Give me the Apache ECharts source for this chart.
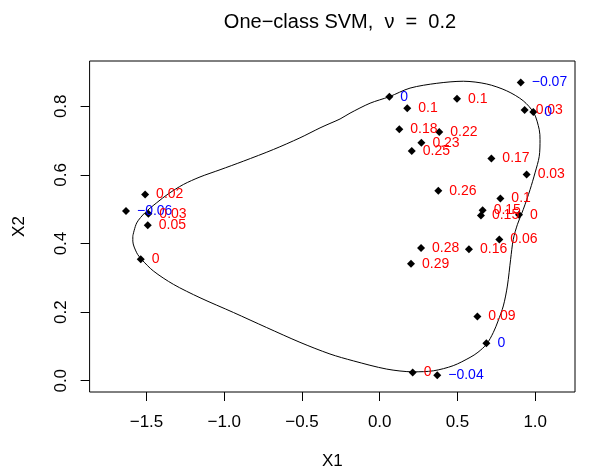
<!DOCTYPE html>
<html>
<head>
<meta charset="utf-8">
<script src="https://cdn.jsdelivr.net/npm/echarts@6/dist/echarts.min.js"></script>
<style>html,body{margin:0;padding:0;background:#fff}#chart{width:590px;height:475px}</style>
</head>
<body>
<div id="chart"></div>
<script>
// Training points (X1, X2) and their labels (decision values)
var pointX1 = [-1.509,-1.632,-1.488,-1.492,-1.537,0.062,0.177,0.497,0.907,0.932,0.988,0.126,0.383,0.268,0.206,0.718,0.945,0.377,0.776,0.662,0.651,0.896,0.769,0.266,0.574,0.201,0.628,0.686,0.212,0.370];
var pointX2 = [0.543,0.495,0.487,0.453,0.354,0.828,0.794,0.822,0.869,0.789,0.783,0.733,0.725,0.694,0.670,0.648,0.601,0.554,0.531,0.497,0.482,0.484,0.412,0.387,0.383,0.341,0.187,0.109,0.024,0.016];
var pointLabels = ["0.02","\u22120.06","0.03","0.05","0","0","0.1","0.1","\u22120.07","0.03","0","0.18","0.22","0.23","0.25","0.17","0.03","0.26","0.1","0.15","0.15","0","0.06","0.28","0.16","0.29","0.09","0","0","\u22120.04"];
// true = negative decision value (drawn in blue)
var pointNegative = [false,true,false,false,false,true,false,false,true,false,true,false,false,false,false,false,false,false,false,false,false,false,false,false,false,false,false,true,false,true];

// Decision boundary (contour at level 0)
var boundaryX1 = [-1.588,-1.563,-1.509,-1.434,-1.359,-1.263,-1.156,-1.027,-0.877,-0.684,-0.513,-0.384,-0.320,-0.255,-0.191,-0.062,0.062,0.195,0.367,0.538,0.688,0.817,0.923,0.992,1.026,1.031,1.026,0.999,0.967,0.923,0.886,0.859,0.842,0.821,0.795,0.761,0.731,0.688,0.632,0.581,0.473,0.345,0.216,0.045,-0.170,-0.320,-0.513,-0.727,-0.941,-1.156,-1.327,-1.456,-1.532,-1.563,-1.588,-1.588];
var boundaryX2 = [0.422,0.460,0.490,0.519,0.545,0.572,0.594,0.615,0.640,0.674,0.708,0.737,0.750,0.763,0.780,0.809,0.828,0.853,0.867,0.873,0.865,0.845,0.816,0.780,0.732,0.703,0.654,0.606,0.557,0.499,0.456,0.412,0.354,0.276,0.218,0.174,0.141,0.107,0.083,0.068,0.044,0.029,0.026,0.034,0.058,0.078,0.112,0.155,0.199,0.242,0.281,0.320,0.354,0.373,0.407,0.422];

var xTicks = [-1.5,-1.0,-0.5,0.0,0.5,1.0];
var yTicks = [0.0,0.2,0.4,0.6,0.8];

var FONT = "'Liberation Sans', Arial, Helvetica, sans-serif";
function fmt(v){ return v.toFixed(1).replace('-', '\u2212'); }

var boundaryData = boundaryX1.map(function(x,i){ return [x, boundaryX2[i]]; });
var pointData = pointX1.map(function(x,i){
  return { value:[x, pointX2[i]], name: pointLabels[i],
    label:{ color: pointNegative[i] ? '#0000FF' : '#FF0000' } };
});

var chart = echarts.init(document.getElementById('chart'), null, {renderer:'canvas'});
chart.setOption({
  animation:false,
  backgroundColor:'#ffffff',
  title:{
    text:'One\u2212class SVM,  \u03bd  =  0.2',
    left:335, top:7, textAlign:'center',
    textStyle:{fontFamily:FONT, fontSize:20, fontWeight:'normal', color:'#000'}
  },
  grid:{ left:89.6, right:15, top:61, bottom:82, show:true, borderColor:'#000', borderWidth:1, backgroundColor:'transparent' },
  xAxis:{
    type:'value', min:-1.866, max:1.256,
    name:'X1', nameLocation:'middle', nameGap:61,
    nameTextStyle:{fontFamily:FONT, fontSize:17, color:'#000'},
    axisLine:{show:false, onZero:false},
    splitLine:{show:false},
    axisTick:{show:true, customValues:xTicks, length:9, lineStyle:{color:'#000'}},
    axisLabel:{show:true, customValues:xTicks, formatter:fmt, margin:22,
      fontFamily:FONT, fontSize:17, color:'#000'}
  },
  yAxis:{
    type:'value', min:-0.0328, max:0.932,
    name:'X2', nameLocation:'middle', nameGap:62,
    nameTextStyle:{fontFamily:FONT, fontSize:17, color:'#000'},
    axisLine:{show:false, onZero:false},
    splitLine:{show:false},
    axisTick:{show:true, customValues:yTicks, length:9, lineStyle:{color:'#000'}},
    axisLabel:{show:true, customValues:yTicks, formatter:fmt, rotate:90, margin:20,
      fontFamily:FONT, fontSize:17, color:'#000'}
  },
  series:[
    { type:'line', data:boundaryData, showSymbol:false, smooth:0.3, silent:true,
      lineStyle:{color:'#000', width:1}, z:2 },
    { type:'scatter', data:pointData, symbol:'diamond', symbolSize:8,
      itemStyle:{color:'#000', opacity:1}, z:3,
      label:{ show:true, position:'right', distance:7, formatter:function(p){return p.name;},
        fontFamily:FONT, fontSize:14, opacity:1 } }
  ]
});
</script>
</body>
</html>
